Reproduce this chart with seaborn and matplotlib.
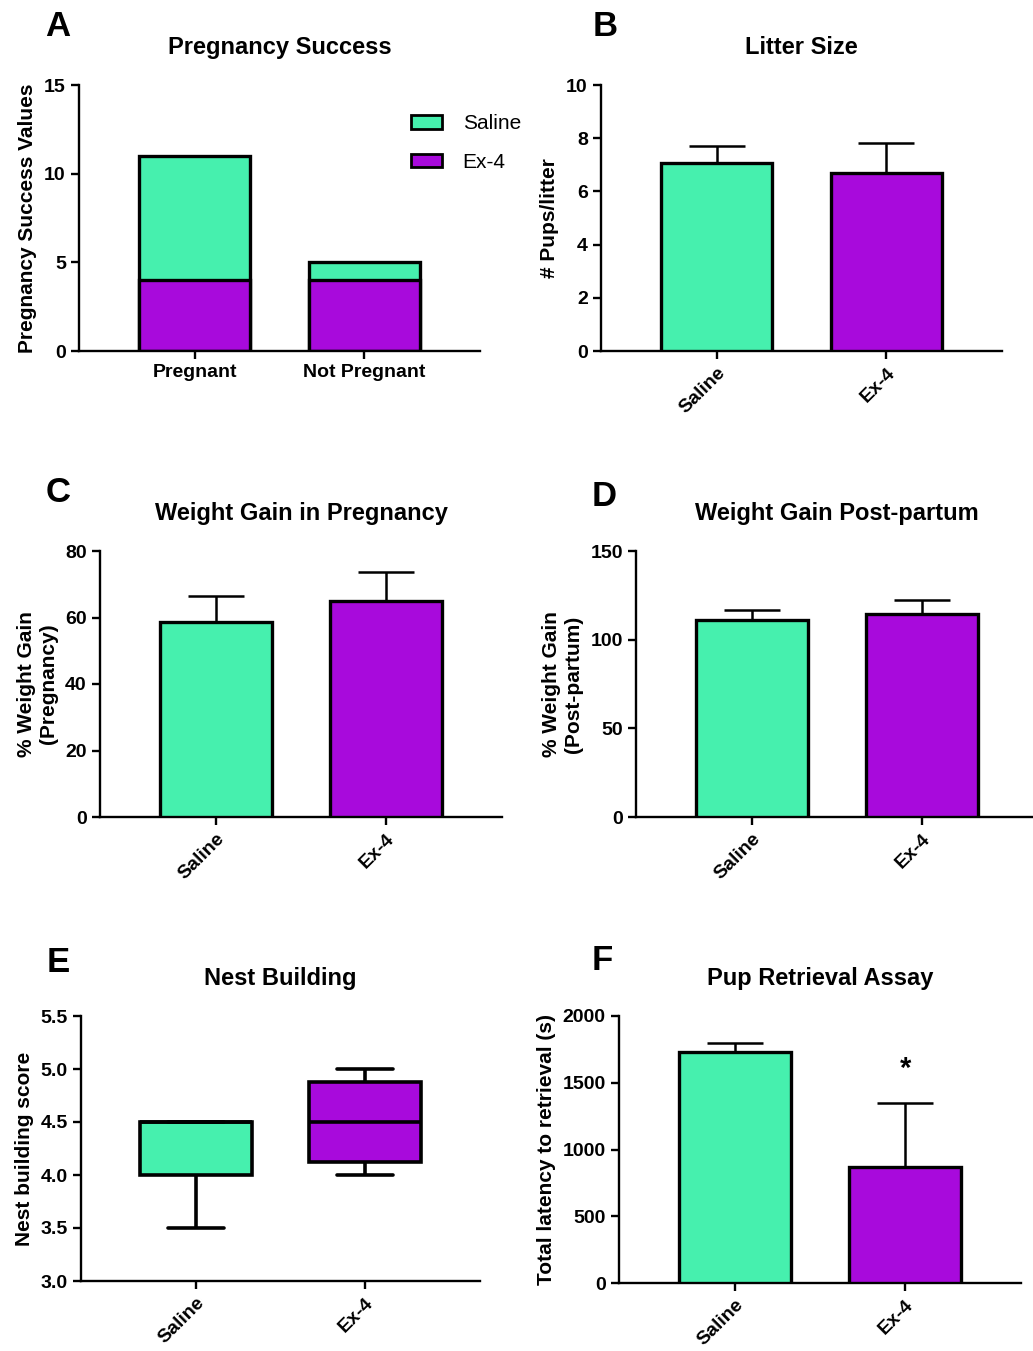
import matplotlib
matplotlib.use("Agg")
import matplotlib.pyplot as plt
from matplotlib.patches import Patch
import pandas as pd
import seaborn as sns

# data
groups = ["Saline", "Ex-4"]
preg_status = ["Pregnant", "Not Pregnant"]
preg_saline = [7, 1]
preg_ex4 = [4, 4]

litter_mean = [7.06, 6.68]
litter_err = [0.66, 1.15]

wg_preg_mean = [58.6, 64.9]
wg_preg_err = [7.8, 8.8]

wg_post_mean = [111.3, 114.7]
wg_post_err = [5.7, 7.5]

nest_saline = [3.5, 4.0, 4.0, 4.5, 4.5, 4.5, 4.5, 4.5]
nest_ex4 = [4.0, 4.0, 4.5, 4.5, 5.0, 5.0]

retrieval_mean = [1729, 872]
retrieval_err = [71, 477]

GREEN = "#46F0AE"
PURPLE = "#A80ADC"
pal = [GREEN, PURPLE]

sns.set_style("ticks")
plt.rcParams["font.family"] = ["Liberation Sans", "DejaVu Sans"]
plt.rcParams["font.weight"] = "bold"
for key in ["text.color", "axes.labelcolor", "xtick.color", "ytick.color", "axes.edgecolor"]:
    plt.rcParams[key] = "black"
plt.rcParams["axes.linewidth"] = 1.7
plt.rcParams["xtick.major.width"] = 1.7
plt.rcParams["ytick.major.width"] = 1.7
plt.rcParams["xtick.major.size"] = 6
plt.rcParams["ytick.major.size"] = 6
plt.rcParams["xtick.labelsize"] = 14
plt.rcParams["ytick.labelsize"] = 14

W, H = 1033, 1351
fig = plt.figure(figsize=(W / 100, H / 100), dpi=100)


def add_ax(left, right, top, bottom):
    return fig.add_axes([left / W, 1 - bottom / H, (right - left) / W, (bottom - top) / H])


def style(ax, title, ylabel, ylim, yticks, rotate=True):
    ax.set_xlim(-0.68, 1.68)
    ax.set_ylim(*ylim)
    ax.set_yticks(yticks)
    ax.set_title(title, fontsize=17, fontweight="bold", pad=22)
    ax.set_ylabel(ylabel, fontsize=15, fontweight="bold", labelpad=5)
    ax.set_xlabel("")
    sns.despine(ax=ax)
    for lab in ax.get_xticklabels() + ax.get_yticklabels():
        lab.set_fontweight("bold")
    if rotate:
        for lab in ax.get_xticklabels():
            lab.set_rotation(45)
            lab.set_ha("right")
            lab.set_rotation_mode("anchor")


def bars(ax, means, errs):
    sns.barplot(x=groups, y=means, hue=groups, palette=pal, saturation=1,
                legend=False, width=0.655, edgecolor="black", linewidth=2.4,
                errorbar=None, ax=ax, zorder=3)
    ax.errorbar(x=[0, 1], y=means, yerr=[[0, 0], errs], fmt="none",
                ecolor="black", elinewidth=1.8, capsize=20, capthick=1.8, zorder=2)


# A - stacked pregnancy success
axA = add_ax(79, 480, 85, 351)
preg_total = [s + e for s, e in zip(preg_saline, preg_ex4)]
sns.barplot(x=preg_status, y=preg_total, color=GREEN, saturation=1, width=0.655,
            edgecolor="black", linewidth=2.4, errorbar=None, ax=axA)
sns.barplot(x=preg_status, y=preg_ex4, color=PURPLE, saturation=1, width=0.655,
            edgecolor="black", linewidth=2.4, errorbar=None, ax=axA)
style(axA, "Pregnancy Success", "Pregnancy Success Values", (0, 15), [0, 5, 10, 15], rotate=False)
axA.legend(handles=[Patch(facecolor=GREEN, edgecolor="black", linewidth=2, label="Saline"),
                    Patch(facecolor=PURPLE, edgecolor="black", linewidth=2, label="Ex-4")],
           loc="upper left", bbox_to_anchor=(0.78, 0.96), frameon=False,
           prop={"size": 15, "weight": "normal"}, handlelength=1.5, handleheight=0.6,
           labelspacing=0.95, handletextpad=1.0)

# B - litter size
axB = add_ax(601, 1002, 85, 351)
bars(axB, litter_mean, litter_err)
style(axB, "Litter Size", "# Pups/litter", (0, 10), [0, 2, 4, 6, 8, 10])

# C - weight gain pregnancy
axC = add_ax(100, 502, 551, 817)
bars(axC, wg_preg_mean, wg_preg_err)
style(axC, "Weight Gain in Pregnancy", "% Weight Gain\n(Pregnancy)", (0, 80), [0, 20, 40, 60, 80])

# D - weight gain post-partum
axD = add_ax(636, 1038, 551, 817)
bars(axD, wg_post_mean, wg_post_err)
style(axD, "Weight Gain Post-partum", "% Weight Gain\n(Post-partum)", (0, 150), [0, 50, 100, 150])

# E - nest building box plot
axE = add_ax(81, 480, 1016, 1281)
nest_df = pd.DataFrame({
    "group": ["Saline"] * len(nest_saline) + ["Ex-4"] * len(nest_ex4),
    "score": nest_saline + nest_ex4,
})
sns.boxplot(data=nest_df, x="group", y="score", hue="group", palette=pal, saturation=1,
            whis=(0, 100), width=0.66, linewidth=2.6, linecolor="black",
            showfliers=False, legend=False, ax=axE)
style(axE, "Nest Building", "Nest building score", (3.0, 5.5), [3.0, 3.5, 4.0, 4.5, 5.0, 5.5])
axE.set_yticklabels([f"{v:.1f}" for v in [3.0, 3.5, 4.0, 4.5, 5.0, 5.5]], fontweight="bold")

# F - pup retrieval
axF = add_ax(619, 1021, 1016, 1283)
bars(axF, retrieval_mean, retrieval_err)
style(axF, "Pup Retrieval Assay", "Total latency to retrieval (s)", (0, 2000), [0, 500, 1000, 1500, 2000])
axF.text(1, 1600, "*", ha="center", va="center", fontsize=21, fontweight="bold")

# panel letters
for letter, x, y in [("A", 58, 27), ("B", 605, 27), ("C", 58, 493),
                     ("D", 604, 497), ("E", 58, 962), ("F", 602, 960)]:
    fig.text(x / W, 1 - y / H, letter, ha="center", va="center",
             fontsize=25, fontweight="bold")

fig.savefig("out.png", dpi=100)
